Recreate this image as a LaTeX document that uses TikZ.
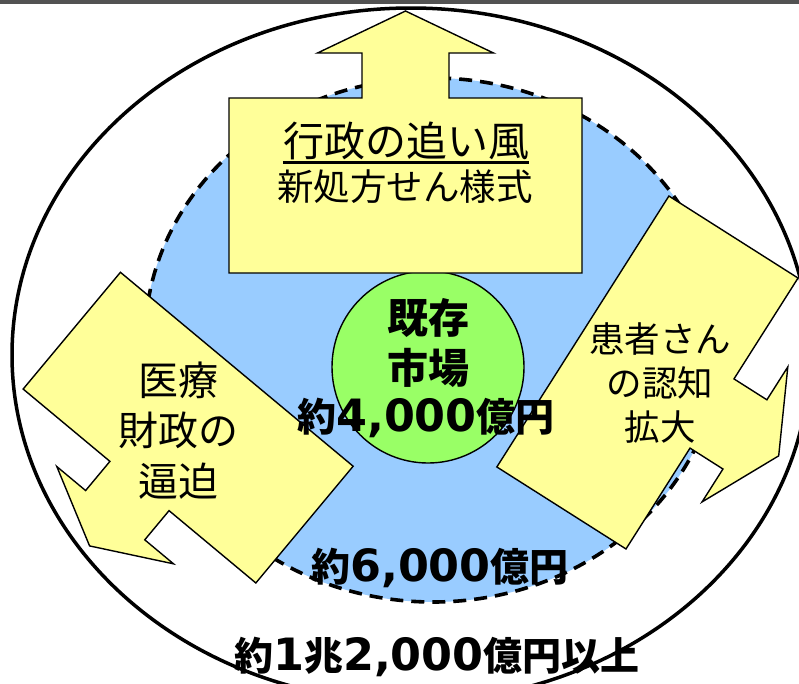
\documentclass[tikz,border=0pt]{standalone}
\usepackage{fontspec}
\newfontfamily\jp{Noto Sans CJK JP}
\newfontfamily\numf{DejaVu Sans}
\newcommand\Nm[1]{{\fontsize{44.5}{46}\selectfont\numf\bfseries #1}}
\definecolor{ylw}{RGB}{255,255,153}
\definecolor{skyb}{RGB}{153,204,255}
\definecolor{grn}{RGB}{153,255,102}
\newcommand\blockarrow[6]{%
  \filldraw[arrowbox] (-#1/2,-#2) -- (#1/2,-#2) -- (#1/2,0) -- (#3,0) -- (#3,#4) -- (#5,#4)
    -- (0,#4+#6) -- (-#5,#4) -- (-#3,#4) -- (-#3,0) -- (-#1/2,0) -- cycle;}
\begin{document}
\begin{tikzpicture}[x=1pt,y=-1pt,
  arrowbox/.style={fill=ylw,draw=black,line width=1.4,line join=miter},
  lbl/.style={inner sep=0,align=center,font=\jp\fontsize{38}{48}\selectfont},
  amt/.style={inner sep=0,font=\jp\bfseries\fontsize{39}{46}\selectfont}]
\useasboundingbox (0,0) rectangle (799,683);
\fill[white] (0,0) rectangle (799,683);
\fill[black!68] (0,0) rectangle (799,3.5);
% outer market
\draw[line width=3.5] (411,355) ellipse [x radius=399, y radius=347];
% middle market
\filldraw[fill=skyb,draw=black,line width=3.6,dash pattern=on 13pt off 8pt] (433,340) ellipse [x radius=288, y radius=262];
% existing market
\filldraw[fill=grn,draw=black,line width=1.4] (428,367) circle [radius=96];
% block arrows
\begin{scope}[shift={(405.5,98)},x={(1pt,0pt)},y={(0pt,1pt)}]
  \blockarrow{353}{175}{43.5}{45}{88}{42}
\end{scope}
\begin{scope}[shift={(139.5,486)},x={(0.768pt,-0.640pt)},y={(-0.640pt,-0.768pt)}]
  \blockarrow{303}{152}{38.5}{38}{76}{40}
\end{scope}
\begin{scope}[shift={(712,413.5)},x={(-0.536pt,-0.844pt)},y={(0.844pt,-0.536pt)}]
  \blockarrow{321}{153}{41}{39}{80}{40}
\end{scope}
% texts
\node[inner sep=0,font=\jp\fontsize{41}{41}\selectfont] (gov) at (406,141) {行政の追い風};
\draw[line width=2.2] ([yshift=-6]gov.base west) -- ([yshift=-6]gov.base east);
\node[inner sep=0,font=\jp\fontsize{36.5}{40}\selectfont] (rx) at (405,187) {新処方せん様式};
\node[lbl,font=\jp\fontsize{40}{50.5}\selectfont] (fin) at (178,430.5) {医療\\財政の\\逼迫};
\node[lbl,font=\jp\fontsize{35.5}{44}\selectfont] (pat) at (660,383) {患者さん\\の認知\\拡大};
\node[inner sep=0,align=center,font=\jp\bfseries\fontsize{41}{50}\selectfont] (ex) at (428,343) {既存\\市場};
\node[amt] (a4) at (426,418) {約\Nm{4,000}億円};
\node[amt] (a6) at (440,568) {約\Nm{6,000}億円};
\node[amt] (a12) at (437,657) {約\Nm{1}兆\Nm{2,000}億円以上};
\end{tikzpicture}
\end{document}
